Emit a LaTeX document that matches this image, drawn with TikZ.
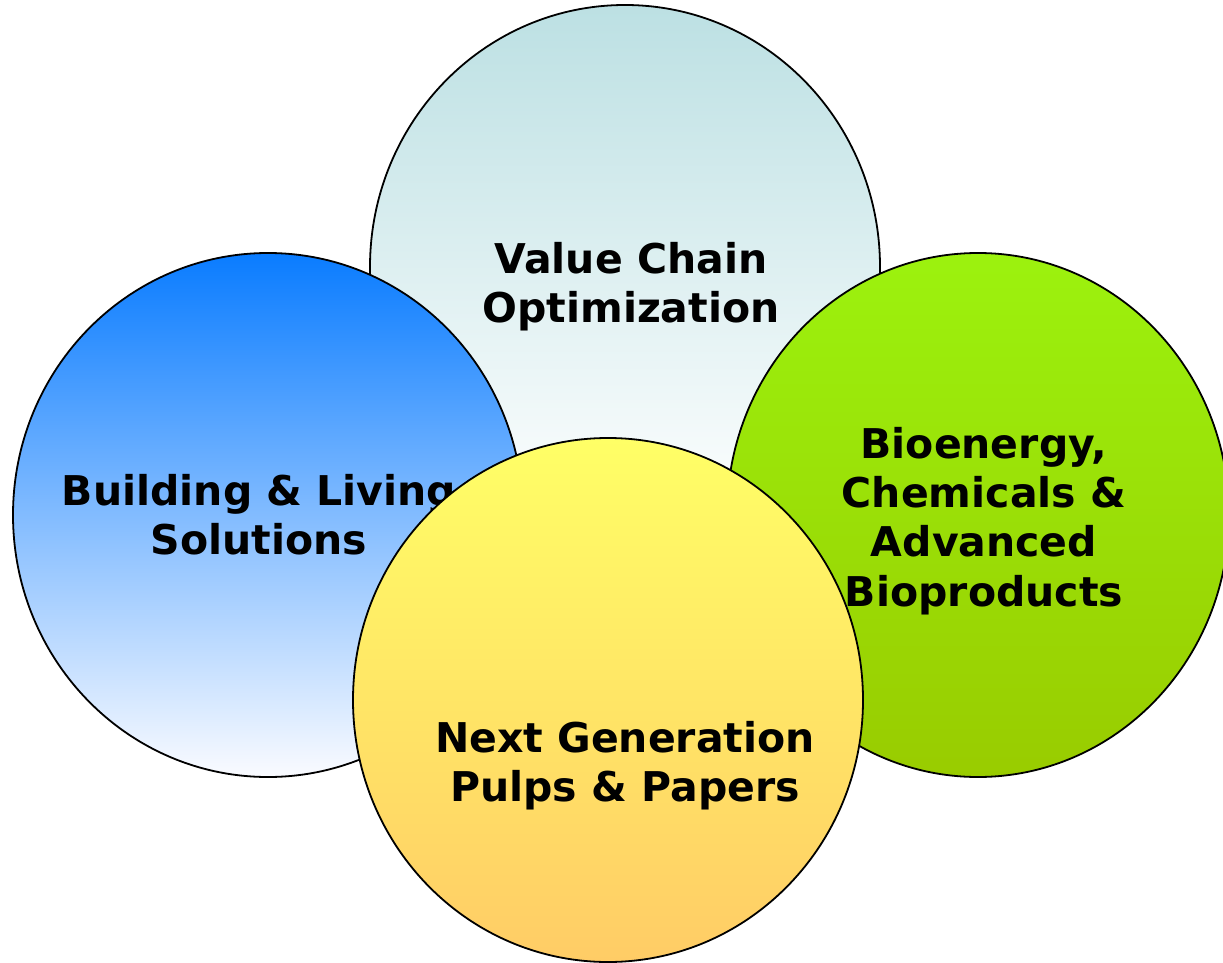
\documentclass[tikz,border=0pt]{standalone}
\usepackage{fontspec}
\setmainfont{DejaVu Sans}[BoldFont=DejaVu Sans Bold]
\begin{document}
\begin{tikzpicture}[x=1pt,y=-1pt,
  bubble/.style={draw=black,line width=1.8pt},
  lbl/.style={align=center,inner sep=0pt,font=\fontsize{41}{49.3}\selectfont\bfseries}]
\useasboundingbox (0,0) rectangle (1223,963);
\definecolor{tealtop}{HTML}{BCE0E3}
\definecolor{tealbot}{HTML}{FFFFFF}
\definecolor{bluetop}{HTML}{0A7CFF}
\definecolor{bluemid}{HTML}{98B2FF}
\definecolor{bluebot}{HTML}{FAFBFF}
\definecolor{greentop}{HTML}{9CF20E}
\definecolor{greenbot}{HTML}{99CC00}
\definecolor{yeltop}{HTML}{FFFF66}
\definecolor{yelbot}{HTML}{FFCC66}
% top
\path[bubble,top color=tealtop,bottom color=tealbot] (625,267) ellipse [x radius=255,y radius=262];
% left
\path[bubble,top color=bluetop,middle color=bluemid,bottom color=bluebot] (268,515) ellipse [x radius=255,y radius=262];
% right
\path[bubble,top color=greentop,bottom color=greenbot] (978,515) ellipse [x radius=251,y radius=262];
\node[lbl] (vco) at (631,287) {Value Chain\\Optimization};
\node[lbl] (bls) at (259,515) {Building \& Living\\Solutions};
\node[lbl] (bio) at (984,521) {Bioenergy,\\Chemicals \&\\Advanced\\Bioproducts};
% bottom
\path[bubble,top color=yeltop,bottom color=yelbot] (608,700) ellipse [x radius=255,y radius=262];
\node[lbl] (ngp) at (625,766) {Next Generation\\Pulps \& Papers};
\end{tikzpicture}
\end{document}
